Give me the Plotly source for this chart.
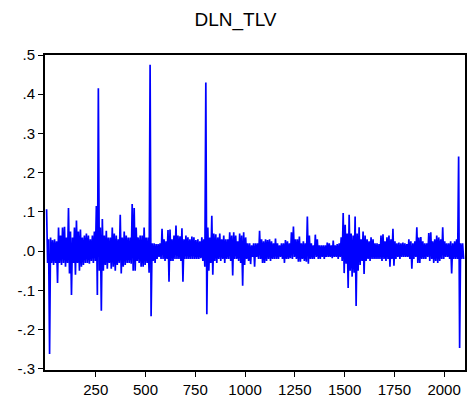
import plotly.graph_objects as go

bin_high = [
    0.107, 0.030, 0.035, 0.028, 0.030, 0.025, 0.060, 0.040, 0.060, 0.062,
    0.035, 0.110, 0.050, 0.035, 0.060, 0.078, 0.050, 0.055, 0.035, 0.040,
    0.045, 0.040, 0.030, 0.040, 0.050, 0.115, 0.415, 0.060, 0.082, 0.040,
    0.052, 0.035, 0.035, 0.060, 0.045, 0.040, 0.030, 0.093, 0.035, 0.050,
    0.040, 0.035, 0.035, 0.120, 0.110, 0.060, 0.035, 0.040, 0.040, 0.060,
    0.035, 0.035, 0.475, 0.020, 0.020, 0.018, 0.018, 0.020, 0.057, 0.030,
    0.025, 0.054, 0.055, 0.030, 0.040, 0.065, 0.040, 0.038, 0.058, 0.030,
    0.040, 0.035, 0.030, 0.037, 0.035, 0.028, 0.030, 0.025, 0.035, 0.030,
    0.430, 0.060, 0.035, 0.090, 0.045, 0.043, 0.035, 0.045, 0.030, 0.040,
    0.030, 0.030, 0.048, 0.040, 0.048, 0.040, 0.025, 0.045, 0.040, 0.048,
    0.035, 0.020, 0.020, 0.015, 0.020, 0.020, 0.020, 0.052, 0.030, 0.025,
    0.030, 0.028, 0.030, 0.025, 0.020, 0.032, 0.020, 0.015, 0.020, 0.020,
    0.028, 0.025, 0.020, 0.048, 0.063, 0.030, 0.030, 0.037, 0.020, 0.025,
    0.020, 0.088, 0.040, 0.020, 0.015, 0.042, 0.030, 0.015, 0.015, 0.015,
    0.015, 0.022, 0.020, 0.015, 0.027, 0.015, 0.018, 0.020, 0.035, 0.097,
    0.067, 0.045, 0.093, 0.045, 0.040, 0.088, 0.045, 0.061, 0.030, 0.050,
    0.040, 0.030, 0.025, 0.035, 0.030, 0.020, 0.020, 0.018, 0.040, 0.043,
    0.025, 0.035, 0.040, 0.030, 0.057, 0.025, 0.020, 0.022, 0.020, 0.022,
    0.020, 0.018, 0.030, 0.025, 0.020, 0.025, 0.061, 0.035, 0.036, 0.025,
    0.020, 0.020, 0.046, 0.048, 0.025, 0.030, 0.040, 0.035, 0.030, 0.061,
    0.025, 0.020, 0.020, 0.025, 0.020, 0.025, 0.030, 0.241, 0.020, 0.020,
]

bin_low = [
    -0.030, -0.262, -0.030, -0.035, -0.030, -0.081, -0.030, -0.035, -0.030, -0.040,
    -0.030, -0.057, -0.112, -0.030, -0.060, -0.030, -0.050, -0.040, -0.035, -0.030,
    -0.030, -0.032, -0.025, -0.030, -0.025, -0.112, -0.050, -0.152, -0.050, -0.035,
    -0.045, -0.030, -0.045, -0.040, -0.050, -0.035, -0.030, -0.057, -0.040, -0.035,
    -0.030, -0.030, -0.032, -0.050, -0.050, -0.025, -0.030, -0.040, -0.040, -0.035,
    -0.030, -0.055, -0.166, -0.025, -0.030, -0.020, -0.015, -0.020, -0.020, -0.025,
    -0.020, -0.078, -0.025, -0.025, -0.020, -0.020, -0.020, -0.025, -0.078, -0.020,
    -0.020, -0.020, -0.020, -0.020, -0.020, -0.020, -0.020, -0.018, -0.025, -0.040,
    -0.161, -0.050, -0.030, -0.060, -0.025, -0.030, -0.020, -0.025, -0.020, -0.030,
    -0.020, -0.020, -0.025, -0.062, -0.020, -0.020, -0.025, -0.030, -0.088, -0.035,
    -0.020, -0.025, -0.033, -0.015, -0.040, -0.015, -0.020, -0.020, -0.030, -0.030,
    -0.025, -0.020, -0.025, -0.020, -0.020, -0.020, -0.020, -0.015, -0.020, -0.030,
    -0.020, -0.020, -0.018, -0.020, -0.015, -0.020, -0.027, -0.027, -0.020, -0.025,
    -0.027, -0.032, -0.020, -0.020, -0.020, -0.015, -0.020, -0.020, -0.015, -0.020,
    -0.015, -0.015, -0.015, -0.018, -0.015, -0.015, -0.020, -0.015, -0.025, -0.056,
    -0.032, -0.094, -0.050, -0.065, -0.055, -0.140, -0.050, -0.035, -0.025, -0.058,
    -0.025, -0.020, -0.025, -0.020, -0.020, -0.020, -0.020, -0.020, -0.025, -0.020,
    -0.025, -0.020, -0.040, -0.020, -0.037, -0.020, -0.015, -0.020, -0.015, -0.015,
    -0.015, -0.015, -0.020, -0.045, -0.020, -0.015, -0.030, -0.030, -0.020, -0.020,
    -0.020, -0.015, -0.025, -0.020, -0.030, -0.025, -0.030, -0.025, -0.020, -0.020,
    -0.015, -0.015, -0.020, -0.057, -0.020, -0.020, -0.020, -0.247, -0.020, -0.020,
]

bin_size = 10
x_ticks = [250, 500, 750, 1000, 1250, 1500, 1750, 2000]
y_ticks = [0.5, 0.4, 0.3, 0.2, 0.1, 0.0, -0.1, -0.2, -0.3]
y_tick_text = [".5", ".4", ".3", ".2", ".1", ".0", "-.1", "-.2", "-.3"]

obs, vals = [], []
for i, (h, l) in enumerate(zip(bin_high, bin_low)):
    obs += [i * bin_size + 3, i * bin_size + 8]
    vals += [h, l]

fig = go.Figure(
    go.Scatter(x=obs, y=vals, mode="lines",
               line=dict(color="#0000FF", width=1.7), hoverinfo="skip")
)

font = "Arial, Liberation Sans, sans-serif"
fig.update_layout(
    width=471, height=402,
    margin=dict(l=45, r=4, t=55, b=31),
    paper_bgcolor="white", plot_bgcolor="white",
    showlegend=False,
    title=dict(text="DLN_TLV", x=0.5, xanchor="center", y=0.952, yanchor="middle",
               font=dict(family=font, size=19, color="black")),
    font=dict(family=font, size=15, color="black"),
)
fig.update_xaxes(
    range=[-5, 2105], tickvals=x_ticks, ticktext=[str(v) for v in x_ticks],
    showgrid=False, zeroline=False, showline=True, linecolor="black", linewidth=2,
    mirror=True, ticks="outside", ticklen=5, tickwidth=1, tickcolor="black",
    tickfont=dict(family=font, size=15, color="black"),
)
fig.update_yaxes(
    range=[-0.303, 0.5], tickvals=y_ticks, ticktext=y_tick_text,
    showgrid=False, zeroline=False, showline=True, linecolor="black", linewidth=2,
    mirror=True, ticks="outside", ticklen=5, tickwidth=1, tickcolor="black",
    tickfont=dict(family=font, size=15, color="black"),
)

fig.write_html("out.html", config={"displayModeBar": False})
